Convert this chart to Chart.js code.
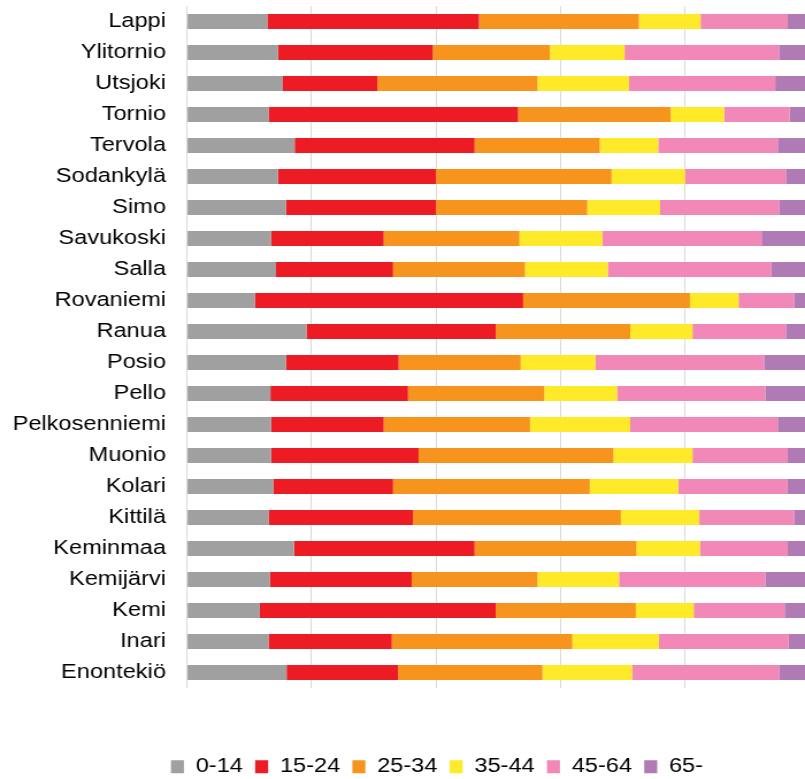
<!DOCTYPE html>
<html>
<head>
<meta charset="utf-8">
<script src="https://cdn.jsdelivr.net/npm/chart.js@4/dist/chart.umd.min.js"></script>
<style>
  html, body { margin: 0; padding: 0; background: #ffffff; overflow: hidden; width: 805px; height: 779px; }
  #wrap { position: absolute; left: 0; top: 0; width: 760px; height: 787px; transform: scaleX(1.15); transform-origin: 0 0; }
  canvas { display: block; }
</style>
</head>
<body>
<div id="wrap"><canvas id="c" width="760" height="787"></canvas></div>
<script>
const categories = ["Lappi","Ylitornio","Utsjoki","Tornio","Tervola","Sodankylä","Simo","Savukoski","Salla","Rovaniemi","Ranua","Posio","Pello","Pelkosenniemi","Muonio","Kolari","Kittilä","Keminmaa","Kemijärvi","Kemi","Inari","Enontekiö"];
const seriesNames = ["0-14","15-24","25-34","35-44","45-64","65-"];
const age0_14  = [12.9,14.6,15.4,13.1,17.3,14.6,15.9,13.5,14.3,10.9,19.2,15.9,13.4,13.5,13.5,13.9,13.1,17.2,13.3,11.7,13.1,16.0];
const age15_24 = [34.0,24.9,15.2,40.1,28.9,25.4,24.1,18.1,18.8,43.1,30.4,18.1,22.1,18.1,23.7,19.2,23.2,29.0,22.8,37.9,19.8,17.9];
const age25_34 = [25.7,18.8,25.7,24.5,20.1,28.2,24.3,21.8,21.2,26.8,21.6,19.6,21.9,23.5,31.3,31.6,33.4,26.0,20.2,22.5,29.0,23.2];
const age35_44 = [9.9,12.0,14.7,8.6,9.4,11.8,11.7,13.3,13.3,7.8,10.0,12.0,11.7,16.1,12.7,14.2,12.6,10.2,13.1,9.3,13.9,14.4];
const age45_64 = [14.0,24.8,23.5,10.5,19.2,16.2,19.1,25.6,26.3,8.9,15.0,27.1,23.8,23.7,15.3,17.5,15.2,14.1,23.5,14.6,20.8,23.6];
const age65    = [3.5,4.9,5.5,3.2,5.1,3.8,4.9,7.7,6.1,2.5,3.8,7.3,7.1,5.1,3.5,3.6,2.5,3.5,7.1,4.0,3.4,4.9];
const colors = ["#a0a0a0","#ed1c24","#f7941d","#ffea2a","#f288b7","#b07ab4"];
const xTicks = [0,20,40,60,80,100];

const seriesData = [age0_14, age15_24, age25_34, age35_44, age45_64, age65];
const FONT = "'Liberation Sans', Arial, sans-serif";

new Chart(document.getElementById('c'), {
  type: 'bar',
  data: {
    labels: categories,
    datasets: seriesData.map((d, i) => ({
      label: seriesNames[i],
      data: d,
      backgroundColor: colors[i],
      borderWidth: 0,
      barPercentage: 0.48,
      categoryPercentage: 1.0,
      yAxisID: 'y'
    }))
  },
  options: {
    indexAxis: 'y',
    responsive: false,
    animation: false,
    devicePixelRatio: 1,
    layout: { padding: { top: 6, left: 0, right: 0, bottom: 0 } },
    plugins: {
      tooltip: { enabled: false },
      legend: {
        position: 'bottom',
        align: 'center',
        labels: {
          boxWidth: 11.3,
          boxHeight: 13,
          padding: 10.6,
          color: '#000000',
          font: { family: FONT, size: 20.5 }
        }
      }
    },
    scales: {
      x: {
        stacked: true,
        min: 0,
        max: 100,
        afterBuildTicks: (s) => { s.ticks = xTicks.map(v => ({ value: v })); },
        ticks: { display: false },
        grid: { color: '#d9d9d9', lineWidth: 1, drawTicks: false },
        border: { display: false },
        afterFit: (s) => { s.height = 57.9; s.paddingLeft = 0; s.paddingRight = 0; }
      },
      y: {
        stacked: true,
        position: 'left',
        ticks: { color: '#000000', font: { family: FONT, size: 20.5 }, padding: 18.3, autoSkip: false },
        grid: { display: false, drawTicks: false },
        border: { display: false },
        afterFit: (s) => { s.width = 162.6; s.paddingTop = 0; s.paddingBottom = 0; }
      },
      y2: {
        type: 'category',
        position: 'right',
        ticks: { display: false },
        grid: { display: false, drawTicks: false },
        border: { display: false },
        afterFit: (s) => { s.width = 56.1; s.paddingTop = 0; s.paddingBottom = 0; }
      }
    }
  }
});
</script>
</body>
</html>
